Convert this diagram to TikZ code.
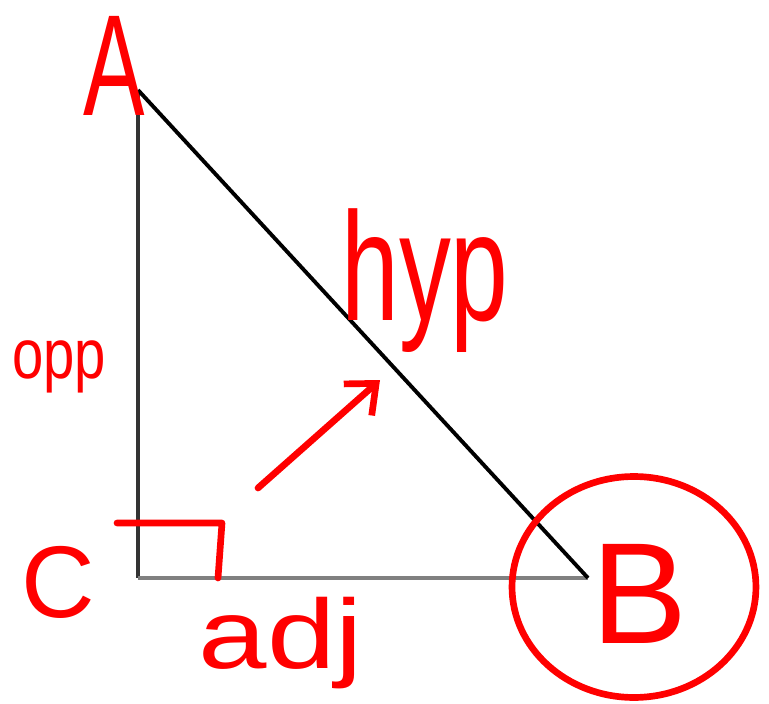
\documentclass[tikz,border=0pt]{standalone}
\usepackage{fontspec}
\usepackage{graphicx}
\setmainfont{Liberation Sans}
\usetikzlibrary{arrows.meta,shapes.geometric}
\tikzset{
  pen/.style={draw=red, line width=3.8pt, line cap=round, line join=round},
  lbl/.style={text=red, inner sep=0pt, anchor=center},
}
\begin{document}
\begin{tikzpicture}[x=0.02cm, y=-0.02cm]
\useasboundingbox (0,0) rectangle (769,704);
% vertices
\coordinate (A) at (138,90);
\coordinate (C) at (138,578);
\coordinate (B) at (588,578);
% sides
\draw[line width=2.2pt, black!80] (A) -- (C);
\draw[line width=2.4pt, black!50] (C) -- (B);
\draw[line width=2.2pt, black] (A) -- (B);
% right angle mark
\coordinate (r1) at (117,523);
\coordinate (r2) at (222,523);
\coordinate (r3) at (218,578);
\draw[pen] (r1) -- (r2) -- (r3);
% arrow
\coordinate (s) at (258,488);
\coordinate (t) at (380,380);
\draw[pen, -{Straight Barb[length=14pt, width=24pt, line width=3.8pt]}] (s) -- (t);
% circle round B
\node[pen, ellipse, minimum width=4.88cm, minimum height=4.42cm, inner sep=0pt] (cB) at (634,587) {};
% labels
\node[lbl, font=\fontsize{82}{82}\selectfont] (lA) at (114,66) {\scalebox{0.64}[1]{A}};
\node[lbl, font=\fontsize{58}{58}\selectfont] (lC) at (58,582) {C};
\node[lbl, font=\fontsize{82}{82}\selectfont] (lB) at (640,594) {B};
\node[lbl, font=\fontsize{40}{40}\selectfont] (lo) at (59,367) {\scalebox{0.8}[1]{opp}};
\node[lbl, font=\fontsize{56}{56}\selectfont] (la) at (281,643) {\scalebox{1.25}[1]{adj}};
\node[lbl, font=\fontsize{72}{72}\selectfont] (lh) at (425,281) {\scalebox{0.82}[1.22]{hyp}};
\end{tikzpicture}
\end{document}
